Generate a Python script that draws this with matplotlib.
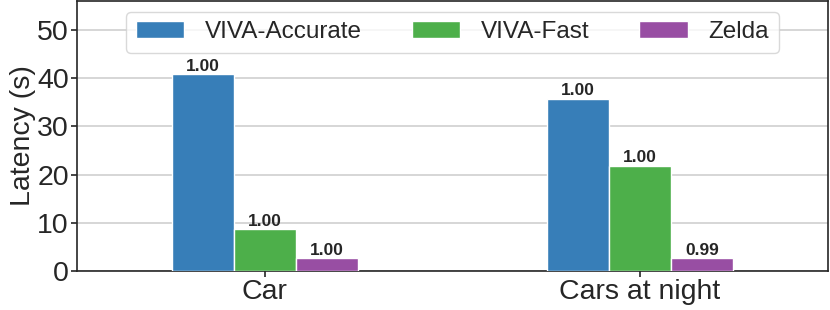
import numpy as np
import matplotlib.pyplot as plt

categories = ["Car", "Cars at night"]
methods = ["VIVA-Accurate", "VIVA-Fast", "Zelda"]
latency = {
    "VIVA-Accurate": [40.8, 35.7],
    "VIVA-Fast": [8.7, 21.8],
    "Zelda": [2.6, 2.6],
}
labels = {
    "VIVA-Accurate": ["1.00", "1.00"],
    "VIVA-Fast": ["1.00", "1.00"],
    "Zelda": ["1.00", "0.99"],
}
colors = ["#377eb8", "#4daf4a", "#984ea3"]

plt.rcParams['font.family'] = ['Liberation Sans', 'DejaVu Sans']
fig, ax = plt.subplots(figsize=(8.3, 3.1), dpi=100)
fig.subplots_adjust(left=0.093, right=0.997, top=0.997, bottom=0.126)

x = np.arange(len(categories))
w = 0.165
for i, m in enumerate(methods):
    pos = x + (i - 1) * w
    bars = ax.bar(pos, latency[m], w, color=colors[i], edgecolor="white",
                  linewidth=1, label=m, zorder=3)
    for b, t in zip(bars, labels[m]):
        ax.text(b.get_x() + b.get_width() / 2, b.get_height() + 0.1, t,
                ha="center", va="bottom", fontsize=12.5, fontweight="bold",
                color="#262626", zorder=4)

ax.set_xlim(-0.5, 1.5)
ax.set_ylim(0, 56)
ax.set_yticks([0, 10, 20, 30, 40, 50])
ax.set_xticks(x)
ax.set_xticklabels(categories)
ax.tick_params(labelsize=20.5, colors="#262626", length=4, width=1.2, pad=2)
ax.set_ylabel("Latency (s)", fontsize=20.5, color="#262626", labelpad=1)
ax.yaxis.grid(True, color="#d0d0d0", linewidth=1.2, zorder=0)
ax.set_axisbelow(True)
for s in ax.spines.values():
    s.set_color("#262626")
    s.set_linewidth(1.2)

leg = ax.legend(loc="upper center", ncol=3, fontsize=17.5, frameon=True,
                bbox_to_anchor=(0.5, 0.96), borderaxespad=0, handlelength=2.0,
                handletextpad=0.85, columnspacing=2.05,
                fancybox=True, edgecolor="#d0d0d0")
for t in leg.get_texts():
    t.set_color("#262626")

fig.savefig("out.png", dpi=100)
